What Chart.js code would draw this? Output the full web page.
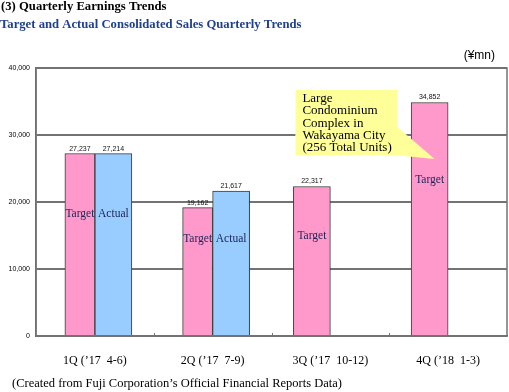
<!DOCTYPE html>
<html>
<head>
<meta charset="utf-8">
<script src="https://cdn.jsdelivr.net/npm/chart.js@4.4.1/dist/chart.umd.min.js"></script>
<style>
  html, body { margin: 0; padding: 0; background: #fff; }
</style>
</head>
<body>
<canvas id="myChart" width="509" height="392"></canvas>
<script>
"use strict";
const quarters = ['1Q (\u201917  4-6)', '2Q (\u201917  7-9)', '3Q (\u201917  10-12)', '4Q (\u201918  1-3)'];
const targetValues = [27237, 19162, 22317, 34852];
const actualValues = [27214, 21617, null, null];
const yTicks = [0, 10000, 20000, 30000, 40000];
const calloutLines = ['Large', 'Condominium', 'Complex in', 'Wakayama City', '(256 Total Units)'];

const SERIF = '"Liberation Serif", "Times New Roman", serif';
const SANS = '"Liberation Sans", Arial, sans-serif';
const gridGray = '#737373';

// target split in two: quarters with an actual bar and quarters without
const targetPaired = targetValues.map((v, i) => actualValues[i] != null ? v : null);
const targetAlone = targetValues.map((v, i) => actualValues[i] == null ? v : null);

const fmt = v => v.toLocaleString('en-US');

const framePlugin = {
    id: 'frame',
    beforeDatasetsDraw(chart) {
        const {ctx, chartArea: a, scales: {x}} = chart;
        ctx.save();
        ctx.strokeStyle = gridGray;
        ctx.lineWidth = 1.5;
        ctx.strokeRect(a.left, a.top, a.right - a.left, a.bottom - a.top);
        ctx.lineWidth = 1;
        for (let i = 1; i < quarters.length; i++) {
            const px = Math.round((x.getPixelForValue(i - 1) + x.getPixelForValue(i)) / 2) + 0.5;
            ctx.beginPath();
            ctx.moveTo(px, a.bottom - 3);
            ctx.lineTo(px, a.bottom);
            ctx.stroke();
        }
        ctx.restore();
    }
};

const labelPlugin = {
    id: 'barLabels',
    afterDatasetsDraw(chart) {
        const {ctx, scales: {y}} = chart;
        ctx.save();
        chart.data.datasets.forEach((ds, di) => {
            const meta = chart.getDatasetMeta(di);
            meta.data.forEach((bar, i) => {
                const v = ds.data[i];
                if (v == null) return;
                // value above the bar
                ctx.font = '7px ' + SANS;
                ctx.fillStyle = '#111';
                ctx.textAlign = 'center';
                ctx.textBaseline = 'alphabetic';
                ctx.fillText(fmt(v), bar.x, bar.y - 3);
                // series name inside the bar
                const groupMax = Math.max(targetValues[i], actualValues[i] || 0);
                ctx.font = '11.5px ' + SERIF;
                ctx.fillStyle = '#1c2456';
                ctx.textBaseline = 'middle';
                ctx.fillText(ds.label, bar.x, y.getPixelForValue(groupMax * 0.67));
            });
        });
        ctx.restore();
    }
};

const calloutPlugin = {
    id: 'callout',
    afterDatasetsDraw(chart) {
        const {ctx, scales: {x, y}} = chart;
        const bar = chart.getDatasetMeta(2).data[3];
        const left = x.getPixelForValue(2) - 35;
        const right = left + 102;
        const top = y.getPixelForValue(36700);
        const bottom = y.getPixelForValue(27000);
        ctx.save();
        ctx.fillStyle = '#ffff99';
        ctx.beginPath();
        ctx.moveTo(left, top);
        ctx.lineTo(right, top);
        ctx.lineTo(right, y.getPixelForValue(31200));
        ctx.lineTo(bar.x + 5, y.getPixelForValue(26400));
        ctx.lineTo(right - 4, bottom);
        ctx.lineTo(left, bottom);
        ctx.closePath();
        ctx.fill();
        ctx.font = '13px ' + SERIF;
        ctx.fillStyle = '#000';
        ctx.textAlign = 'left';
        ctx.textBaseline = 'alphabetic';
        calloutLines.forEach((t, k) => ctx.fillText(t, left + 7, top + 12 + k * 12.2));
        ctx.restore();
    }
};

const textPlugin = {
    id: 'texts',
    afterDraw(chart) {
        const {ctx} = chart;
        ctx.save();
        ctx.textAlign = 'left';
        ctx.textBaseline = 'alphabetic';
        ctx.font = 'bold 12.7px ' + SERIF;
        ctx.fillStyle = '#000';
        ctx.fillText('(3) Quarterly Earnings Trends', 1, 10);
        ctx.fillStyle = '#1f3f8f';
        ctx.fillText('Target and Actual Consolidated Sales Quarterly Trends', 0, 28);
        ctx.font = '12px ' + SANS;
        ctx.fillStyle = '#000';
        ctx.textAlign = 'right';
        ctx.fillText('(\u00a5mn)', 495, 59);
        ctx.textAlign = 'left';
        ctx.font = '12.5px ' + SERIF;
        ctx.fillText('(Created from Fuji Corporation\u2019s Official Financial Reports Data)', 12, 387);
        ctx.restore();
    }
};

const ctx = document.getElementById('myChart');
var myChart = new Chart(ctx, {
    type: 'bar',
    data: {
        labels: quarters,
        datasets: [{
                label: 'Target',
                data: targetPaired,
                stack: 'a',
                barThickness: 30,
                backgroundColor: '#ff99cc',
                borderColor: '#3a3a3a',
                borderWidth: 1
            },
            {
                label: 'Actual',
                data: actualValues,
                stack: 'b',
                barThickness: 37,
                backgroundColor: '#99ccff',
                borderColor: '#3a3a3a',
                borderWidth: 1
            },
            {
                label: 'Target',
                data: targetAlone,
                stack: 'a',
                barThickness: 37,
                backgroundColor: '#ff99cc',
                borderColor: '#3a3a3a',
                borderWidth: 1
            }
        ]
    },
    options: {
        responsive: false,
        animation: false,
        devicePixelRatio: 1,
        locale: 'en-US',
        layout: {
            padding: { top: 68, right: 2, left: 0, bottom: 0 }
        },
        plugins: {
            legend: { display: false },
            tooltip: { enabled: false }
        },
        scales: {
            x: {
                grid: { display: false },
                border: { color: gridGray, width: 1.5 },
                ticks: {
                    padding: 10,
                    color: '#000',
                    font: { family: SERIF, size: 12 }
                },
                afterFit: s => { s.height = 56; }
            },
            y: {
                min: 0,
                max: 40000,
                afterBuildTicks: s => { s.ticks = yTicks.map(v => ({ value: v })); },
                grid: { color: gridGray, lineWidth: 2, drawTicks: false },
                border: { color: '#666', width: 1.5 },
                ticks: {
                    padding: 6,
                    color: '#000',
                    font: { family: SANS, size: 7 },
                    callback: v => fmt(v)
                },
                afterFit: s => { s.width = 36; }
            }
        }
    },
    plugins: [framePlugin, labelPlugin, calloutPlugin, textPlugin]
});
</script>
</body>
</html>
